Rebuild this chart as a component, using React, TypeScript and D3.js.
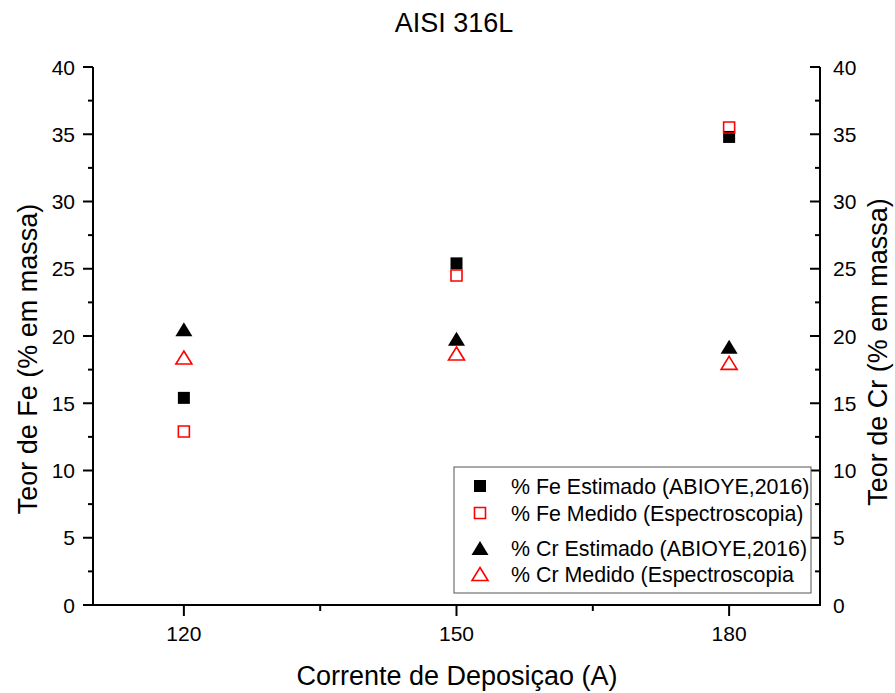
import React from "react";
import * as d3 from "d3";

const currents = [120, 150, 180];
const feEstimado = [15.4, 25.4, 34.8];
const feMedido = [12.9, 24.5, 35.5];
const crEstimado = [20.5, 19.8, 19.2];
const crMedido = [18.4, 18.7, 18.0];

const yTicks = [0, 5, 10, 15, 20, 25, 30, 35, 40];
const yMinor = [2.5, 7.5, 12.5, 17.5, 22.5, 27.5, 32.5, 37.5];
const xTicks = [120, 150, 180];
const xMinor = [135, 165];

const legendLabels = [
  "% Fe Estimado (ABIOYE,2016)",
  "% Fe Medido (Espectroscopia)",
  "% Cr Estimado (ABIOYE,2016)",
  "% Cr Medido (Espectroscopia",
];

const W = 895;
const H = 693;
const FONT = "'Liberation Sans', Arial, sans-serif";

const x = d3.scaleLinear().domain([110, 190]).range([93, 820]);
const y = d3.scaleLinear().domain([0, 40]).range([605, 67]);

function square(cx: number, cy: number, s: number) {
  const p = d3.path();
  p.rect(cx - s / 2, cy - s / 2, s, s);
  return p.toString();
}

function triangle(cx: number, cy: number, w: number, h: number) {
  const p = d3.path();
  p.moveTo(cx, cy - h / 2);
  p.lineTo(cx + w / 2, cy + h / 2);
  p.lineTo(cx - w / 2, cy + h / 2);
  p.closePath();
  return p.toString();
}

type Marker = "fsq" | "osq" | "ftri" | "otri";

function markerPath(kind: Marker, cx: number, cy: number) {
  switch (kind) {
    case "fsq":
      return square(cx, cy, 12);
    case "osq":
      return square(cx, cy, 11);
    case "ftri":
      return triangle(cx, cy, 17, 14);
    default:
      return triangle(cx, cy, 16, 13);
  }
}

function markerStyle(kind: Marker) {
  const filled = kind === "fsq" || kind === "ftri";
  return filled
    ? { fill: "#000", stroke: "none" }
    : { fill: "none", stroke: "#ff0000", strokeWidth: 1.6 };
}

const series: { values: number[]; kind: Marker }[] = [
  { values: feEstimado, kind: "fsq" },
  { values: feMedido, kind: "osq" },
  { values: crEstimado, kind: "ftri" },
  { values: crMedido, kind: "otri" },
];

export default function App() {
  const axisStroke = { stroke: "#000", strokeWidth: 2 };
  const legendRows = [486, 513, 548, 574];
  return (
    <svg
      width={W}
      height={H}
      style={{ position: "absolute", left: 0, top: 0, background: "#fff" }}
      fontFamily={FONT}
    >
      <rect x={0} y={0} width={W} height={H} fill="#fff" />
      <text x={454} y={32} textAnchor="middle" fontSize={27}>
        AISI 316L
      </text>

      {/* axis lines */}
      <line x1={x(110)} x2={x(110)} y1={y(40)} y2={y(0) + 1} {...axisStroke} />
      <line x1={x(190)} x2={x(190)} y1={y(40)} y2={y(0) + 1} {...axisStroke} />
      <line x1={x(110) - 1} x2={x(190) + 1} y1={y(0)} y2={y(0)} {...axisStroke} />

      {/* left axis */}
      {yTicks.map((t) => (
        <g key={"l" + t}>
          <line x1={x(110) - 10} x2={x(110)} y1={y(t)} y2={y(t)} {...axisStroke} />
          <text x={75} y={y(t) + 7.5} textAnchor="end" fontSize={21}>
            {t}
          </text>
        </g>
      ))}
      {yMinor.map((t) => (
        <line key={"lm" + t} x1={x(110) - 5} x2={x(110)} y1={y(t)} y2={y(t)} {...axisStroke} />
      ))}

      {/* right axis */}
      {yTicks.map((t) => (
        <g key={"r" + t}>
          <line x1={x(190) - 10} x2={x(190)} y1={y(t)} y2={y(t)} {...axisStroke} />
          <text x={833} y={y(t) + 7.5} textAnchor="start" fontSize={21}>
            {t}
          </text>
        </g>
      ))}
      {yMinor.map((t) => (
        <line key={"rm" + t} x1={x(190) - 5} x2={x(190)} y1={y(t)} y2={y(t)} {...axisStroke} />
      ))}

      {/* bottom axis */}
      {xTicks.map((t) => (
        <g key={"b" + t}>
          <line x1={x(t)} x2={x(t)} y1={y(0)} y2={y(0) + 11} {...axisStroke} />
          <text x={x(t)} y={641} textAnchor="middle" fontSize={21}>
            {t}
          </text>
        </g>
      ))}
      {xMinor.map((t) => (
        <line key={"bm" + t} x1={x(t)} x2={x(t)} y1={y(0)} y2={y(0) + 6} {...axisStroke} />
      ))}

      {/* axis titles */}
      <text x={457} y={685} textAnchor="middle" fontSize={27}>
        Corrente de Deposiçao (A)
      </text>
      <text transform="translate(37, 359) rotate(-90)" textAnchor="middle" fontSize={27}>
        Teor de Fe (% em massa)
      </text>
      <text transform="translate(887, 352) rotate(-90)" textAnchor="middle" fontSize={27}>
        Teor de Cr (% em massa)
      </text>

      {/* data */}
      {series.map((s) =>
        s.values.map((v, i) => (
          <path
            key={s.kind + i}
            d={markerPath(s.kind, x(currents[i]), y(v))}
            {...markerStyle(s.kind)}
          />
        ))
      )}

      {/* legend */}
      <rect x={454} y={467} width={357} height={126} fill="#fff" stroke="#555" strokeWidth={1} />
      {series.map((s, i) => (
        <g key={"lg" + i}>
          <path d={markerPath(s.kind, 480, legendRows[i])} {...markerStyle(s.kind)} />
          <text x={511} y={legendRows[i] + 8} fontSize={21.4}>
            {legendLabels[i]}
          </text>
        </g>
      ))}
    </svg>
  );
}
